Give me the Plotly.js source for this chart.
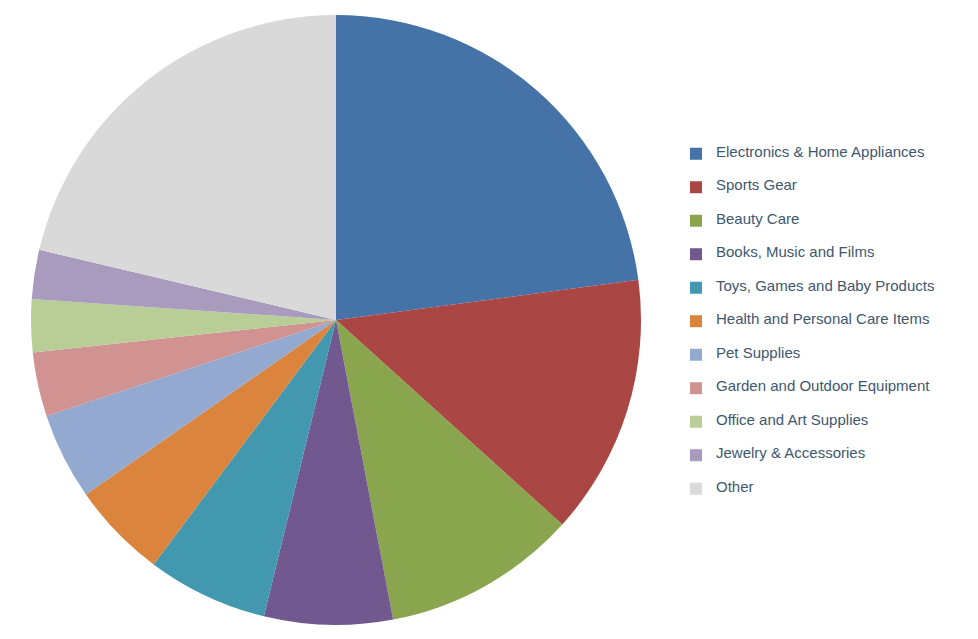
<!DOCTYPE html>
<html>
<head>
<meta charset="utf-8">
<script src="https://cdn.plot.ly/plotly-3.0.1.min.js"></script>
<style>
  html, body { margin: 0; padding: 0; background: #ffffff; }
  #chart { width: 978px; height: 639px; }
</style>
</head>
<body>
<div id="chart"></div>
<script>
// Category names (legend) and their shares, in drawing order (clockwise from 12 o'clock)
var categories = [
  "Electronics & Home Appliances",
  "Sports Gear",
  "Beauty Care",
  "Books, Music and Films",
  "Toys, Games and Baby Products",
  "Health and Personal Care Items",
  "Pet Supplies",
  "Garden and Outdoor Equipment",
  "Office and Art Supplies",
  "Jewelry & Accessories",
  "Other"
];
var shares = [22.9, 13.8, 10.3, 6.8, 6.4, 5.1, 4.6, 3.4, 2.8, 2.6, 21.3];
var sliceColors = [
  "#4572A7", "#AA4643", "#89A54E", "#71588F", "#4198AF", "#DB843D",
  "#93A9CF", "#D19392", "#B9CD96", "#A99BBD", "#D9D9D9"
];

// legend entry text: label on a middle line so that entries are spaced like the original
var legendText = categories.map(function (c) {
  return '<br><span style="font-size:15px">' + c + '</span><br>';
});

var trace = {
  type: 'pie',
  labels: legendText,
  values: shares,
  sort: false,
  direction: 'clockwise',
  rotation: 0,
  textinfo: 'none',
  hoverinfo: 'none',
  marker: { colors: sliceColors, line: { width: 0 } },
  domain: { x: [31 / 978, 641 / 978], y: [14 / 639, 624 / 639] }
};

var layout = {
  width: 978,
  height: 639,
  margin: { l: 0, r: 0, t: 0, b: 0 },
  paper_bgcolor: '#ffffff',
  showlegend: true,
  legend: {
    x: 676 / 978,
    xanchor: 'left',
    y: 0.5 - 2 / 639,
    yanchor: 'middle',
    font: { family: 'Liberation Sans, Arial, sans-serif', size: 7.82, color: '#3E576F' },
    bgcolor: 'rgba(0,0,0,0)'
  }
};

Plotly.newPlot('chart', [trace], layout, { displayModeBar: false, staticPlot: true });
</script>
</body>
</html>
